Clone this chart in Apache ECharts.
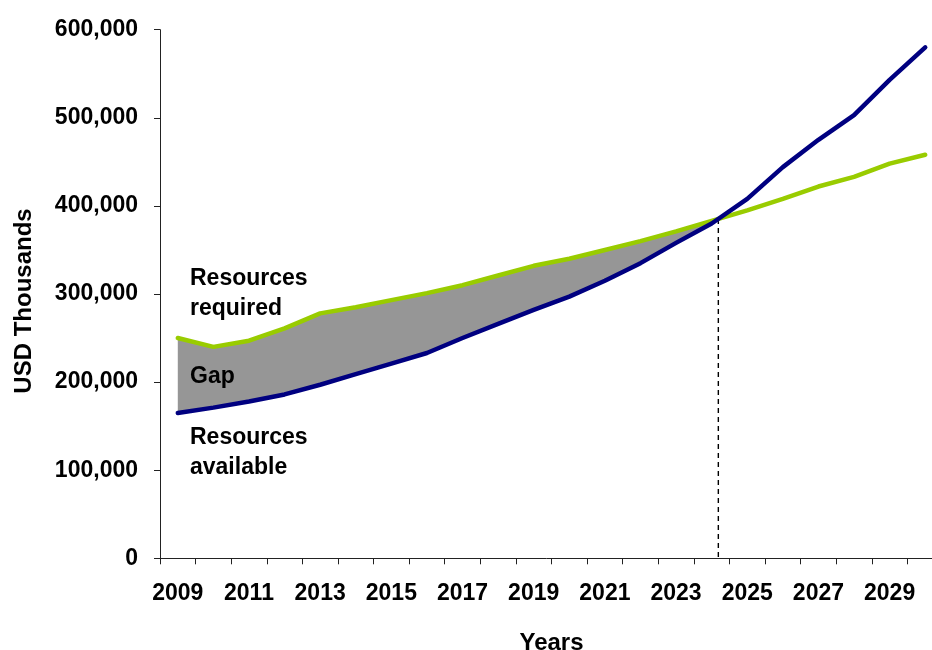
<!DOCTYPE html>
<html>
<head>
<meta charset="utf-8">
<title>Resources required vs. available</title>
<script src="https://cdn.jsdelivr.net/npm/echarts@6/dist/echarts.min.js"></script>
<style>
  html, body { margin: 0; padding: 0; background: #ffffff; }
  #chart { width: 932px; height: 650px; }
</style>
</head>
<body>
<div id="chart"></div>
<script>
// Years on the horizontal axis (also used as the tick labels)
const years = ['2009','2010','2011','2012','2013','2014','2015','2016','2017','2018','2019',
               '2020','2021','2022','2023','2024','2025','2026','2027','2028','2029','2030'];

// Funding needed per year, USD thousands
const required = [250000, 240000, 247000, 261000, 278000, 285000, 293000, 301000, 310000, 321000, 332000,
                  340000, 350000, 360000, 371000, 383000, 395000, 408000, 422000, 433000, 448000, 458000];

// Funding expected to be available per year, USD thousands
const available = [165000, 171000, 178000, 186000, 197000, 209000, 221000, 233000, 250000, 266000, 282000,
                   297000, 315000, 335000, 358000, 380000, 408000, 444000, 475000, 503000, 543000, 580000];

// Value-axis ticks
const yTicks = [0, 100000, 200000, 300000, 400000, 500000, 600000];

const FONT = '"Liberation Sans", Arial, Helvetica, sans-serif';

// Locate where available funding overtakes the requirement (linear between years)
let cross = null;
for (let i = 0; i < years.length - 1; i++) {
  const d0 = required[i] - available[i];
  const d1 = required[i + 1] - available[i + 1];
  if (d0 >= 0 && d1 < 0) {
    const t = d0 / (d0 - d1);
    cross = { i: i, x: i + t, y: required[i] + t * (required[i + 1] - required[i]) };
    break;
  }
}

// Outline of the shortfall region: along "required" to the crossing, back along "available"
const gapPolygon = [];
for (let i = 0; i <= cross.i; i++) gapPolygon.push([i, required[i]]);
gapPolygon.push([cross.x, cross.y]);
for (let i = cross.i; i >= 0; i--) gapPolygon.push([i, available[i]]);

const chart = echarts.init(document.getElementById('chart'), null, { renderer: 'canvas' });

const labelStyle = { fontFamily: FONT, fontWeight: 'bold', fontSize: 23, color: '#000' };
const noteStyle = { fontFamily: FONT, fontWeight: 'bold', fontSize: 23, fill: '#000', lineHeight: 30 };

chart.setOption({
  animation: false,
  backgroundColor: '#ffffff',
  grid: {
    left: 160, top: 29.7, width: 783, height: 528.6,
    containLabel: false,
    outerBoundsMode: 'none'
  },
  xAxis: [
    {
      type: 'category',
      data: years,
      boundaryGap: true,
      name: 'Years',
      nameLocation: 'middle',
      nameGap: 73,
      nameMoveOverlap: false,
      nameTextStyle: { fontFamily: FONT, fontWeight: 'bold', fontSize: 24, color: '#000' },
      axisLine: { show: true, onZero: false, lineStyle: { color: '#222', width: 1 } },
      axisTick: { show: true, interval: 0, alignWithLabel: false, length: 6, inside: false,
                  lineStyle: { color: '#222', width: 1 } },
      axisLabel: Object.assign({ interval: 1, margin: 24 }, labelStyle),
      splitLine: { show: false }
    },
    {
      // Continuous companion axis spanning the same category slots
      type: 'value',
      min: -0.5,
      max: years.length - 0.5,
      show: false,
      splitLine: { show: false }
    }
  ],
  yAxis: {
    type: 'value',
    min: yTicks[0],
    max: yTicks[yTicks.length - 1],
    interval: yTicks[1] - yTicks[0],
    name: 'USD Thousands',
    nameLocation: 'middle',
    nameGap: 124,
    nameRotate: 90,
    nameMoveOverlap: false,
    nameTextStyle: { fontFamily: FONT, fontWeight: 'bold', fontSize: 24, color: '#000',
                     padding: [0, 14, 0, 0] },
    axisLine: { show: true, onZero: false, lineStyle: { color: '#222', width: 1 } },
    axisTick: { show: true, length: 6, inside: false, lineStyle: { color: '#222', width: 1 } },
    axisLabel: Object.assign({
      margin: 22,
      formatter: v => v.toLocaleString('en-US')
    }, labelStyle),
    splitLine: { show: false }
  },
  series: [
    {
      name: 'Gap',
      type: 'custom',
      xAxisIndex: 1,
      yAxisIndex: 0,
      z: 1,
      silent: true,
      data: [0],
      renderItem: function (params, api) {
        const pts = gapPolygon.map(p => api.coord(p));
        return { type: 'polygon', shape: { points: pts }, style: { fill: '#969696', stroke: null } };
      }
    },
    {
      name: 'Break-even',
      type: 'line',
      xAxisIndex: 1,
      z: 2,
      symbol: 'none',
      silent: true,
      data: [[cross.x, cross.y], [cross.x, 0]],
      lineStyle: { color: '#000', width: 1.4, type: [5, 4] }
    },
    {
      name: 'Resources required',
      type: 'line',
      xAxisIndex: 0,
      z: 3,
      data: required,
      symbol: 'none',
      lineStyle: { color: '#99CC00', width: 4.5, cap: 'round', join: 'round' }
    },
    {
      name: 'Resources available',
      type: 'line',
      xAxisIndex: 0,
      z: 4,
      data: available,
      symbol: 'none',
      lineStyle: { color: '#000080', width: 4.5, cap: 'round', join: 'round' }
    }
  ],
  graphic: [
    { type: 'text', left: 190, top: 264, z: 10, style: Object.assign({ text: 'Resources\nrequired' }, noteStyle) },
    { type: 'text', left: 190, top: 362, z: 10, style: Object.assign({ text: 'Gap' }, noteStyle) },
    { type: 'text', left: 190, top: 423, z: 10, style: Object.assign({ text: 'Resources\navailable' }, noteStyle) }
  ]
});
</script>
</body>
</html>
